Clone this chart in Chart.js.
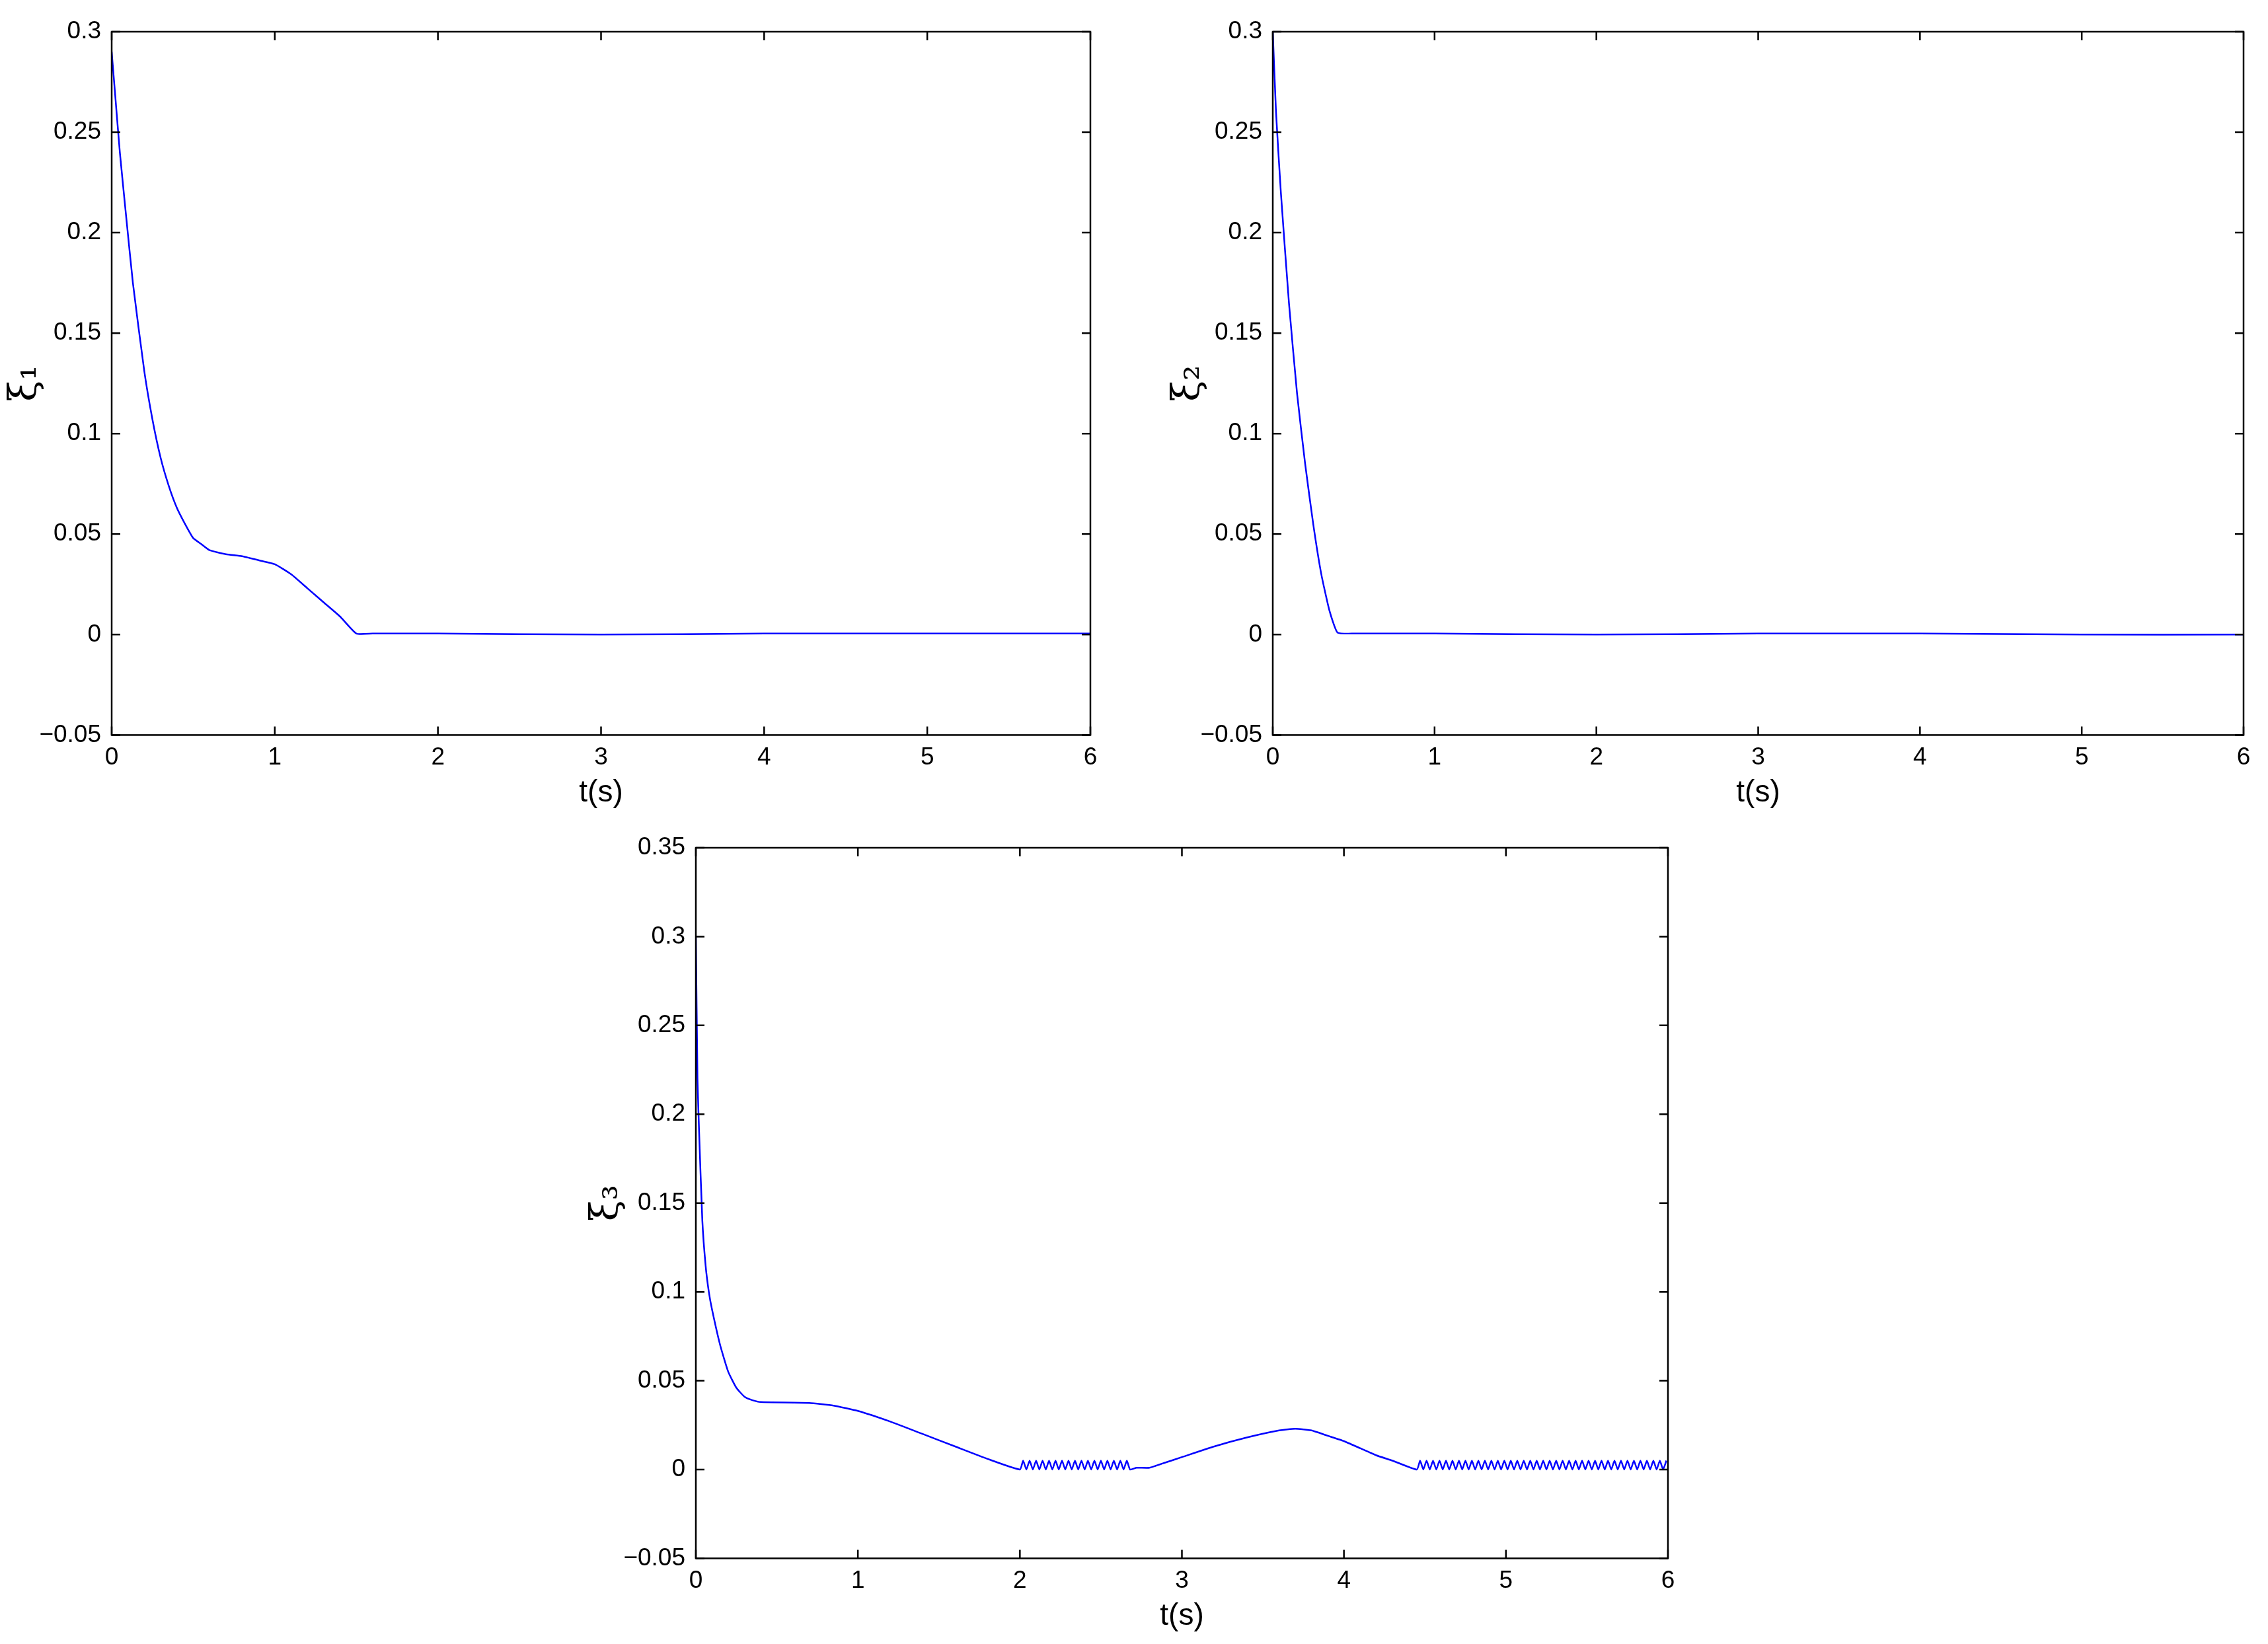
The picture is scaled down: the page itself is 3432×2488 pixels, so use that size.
<!DOCTYPE html>
<html><head><meta charset="utf-8">
<script src="https://cdn.jsdelivr.net/npm/chart.js@4"></script>
<style>body{margin:0;background:#fff;width:3432px;height:2488px;position:relative;overflow:hidden}
canvas{position:absolute}</style></head><body>
<canvas id="c1" style="left:0;top:0;width:1700px;height:1240px"></canvas>
<canvas id="c2" style="left:1760px;top:0;width:1672px;height:1240px"></canvas>
<canvas id="c3" style="left:880px;top:1240px;width:1700px;height:1248px"></canvas>
<script>
// ---- data ----
const t1 = [0,0.02,0.05,0.09,0.13,0.2,0.25,0.3,0.35,0.4,0.45,0.5,0.55,0.6,0.7,0.8,0.9,1.0,1.1,1.2,1.3,1.4,1.5,1.6,2,3,4,5,6];
const v1 = [0.29,0.27,0.24,0.207,0.175,0.131,0.107,0.088,0.074,0.063,0.055,0.048,0.045,0.042,0.040,0.039,0.037,0.035,0.030,0.023,0.016,0.009,0.0005,0.0005,0.0005,0.0,0.0005,0.0005,0.0005];
const t2 = [0,0.02,0.05,0.1,0.15,0.2,0.25,0.3,0.35,0.4,0.5,1,2,3,4,5,6];
const v2 = [0.3,0.26,0.22,0.165,0.12,0.085,0.055,0.03,0.012,0.001,0.0005,0.0005,0.0,0.0005,0.0005,0.0,0.0];
const t3main = [0,0.01,0.02,0.04,0.06,0.08,0.1,0.15,0.2,0.25,0.3,0.35,0.4,0.7,0.85,1.0,1.2,1.4,1.6,1.8,2.0];
const v3main = [0.3,0.22,0.19,0.14,0.115,0.1,0.09,0.07,0.055,0.046,0.041,0.039,0.038,0.0375,0.036,0.033,0.027,0.02,0.013,0.006,0.0];
const t3teethA = [2.02,2.04,2.06,2.08,2.10,2.12,2.14,2.16,2.18,2.20,2.22,2.24,2.26,2.28,2.30,2.32,2.34,2.36,2.38,2.40,2.42,2.44,2.46,2.48,2.50,2.52,2.54,2.56,2.58,2.60,2.62,2.64,2.66,2.68];
const v3teethA = [0.005,0,0.005,0,0.005,0,0.005,0,0.005,0,0.005,0,0.005,0,0.005,0,0.005,0,0.005,0,0.005,0,0.005,0,0.005,0,0.005,0,0.005,0,0.005,0,0.005,0];
const t3mid = [2.72,2.8,2.9,3.0,3.2,3.4,3.6,3.7,3.8,3.9,4.0,4.1,4.2,4.3,4.45];
const v3mid = [0.001,0.001,0.004,0.007,0.013,0.018,0.022,0.023,0.022,0.019,0.016,0.012,0.008,0.005,0.0];
const t3teethB = [4.47,4.49,4.51,4.53,4.55,4.57,4.59,4.61,4.63,4.65,4.67,4.69,4.71,4.73,4.75,4.77,4.79,4.81,4.83,4.85,4.87,4.89,4.91,4.93,4.95,4.97,4.99,5.01,5.03,5.05,5.07,5.09,5.11,5.13,5.15,5.17,5.19,5.21,5.23,5.25,5.27,5.29,5.31,5.33,5.35,5.37,5.39,5.41,5.43,5.45,5.47,5.49,5.51,5.53,5.55,5.57,5.59,5.61,5.63,5.65,5.67,5.69,5.71,5.73,5.75,5.77,5.79,5.81,5.83,5.85,5.87,5.89,5.91,5.93,5.95,5.97,5.99];
const v3teethB = [0.005,0,0.005,0,0.005,0,0.005,0,0.005,0,0.005,0,0.005,0,0.005,0,0.005,0,0.005,0,0.005,0,0.005,0,0.005,0,0.005,0,0.005,0,0.005,0,0.005,0,0.005,0,0.005,0,0.005,0,0.005,0,0.005,0,0.005,0,0.005,0,0.005,0,0.005,0,0.005,0,0.005,0,0.005,0,0.005,0,0.005,0,0.005,0,0.005,0,0.005,0,0.005,0,0.005,0,0.005,0,0.005,0,0.005];
const xTicks = [0,1,2,3,4,5,6];

function pts(ts, vs){ return ts.map((t,i)=>({x:t,y:vs[i]})); }

const frame = {
  id:'frame',
  afterDraw(chart){
    const {ctx, chartArea:a, scales} = chart;
    ctx.save(); ctx.strokeStyle='#000'; ctx.lineWidth=2.5;
    ctx.strokeRect(a.left,a.top,a.right-a.left,a.bottom-a.top);
    const L=13;
    ctx.beginPath();
    scales.x.ticks.forEach(t=>{const p=scales.x.getPixelForValue(t.value);
      ctx.moveTo(p,a.bottom);ctx.lineTo(p,a.bottom-L);ctx.moveTo(p,a.top);ctx.lineTo(p,a.top+L);});
    scales.y.ticks.forEach(t=>{const p=scales.y.getPixelForValue(t.value);
      ctx.moveTo(a.left,p);ctx.lineTo(a.left+L,p);ctx.moveTo(a.right,p);ctx.lineTo(a.right-L,p);});
    ctx.stroke(); ctx.restore();
  }
};

function make(id, data, ymax, ylab, yw, pad){
  new Chart(document.getElementById(id), {
    type:'line',
    data:{datasets:[{data, borderColor:'#0000ff', borderWidth:2.5, pointRadius:0, tension:0.15, fill:false}]},
    options:{
      responsive:false, animation:false, devicePixelRatio:1,
      layout:{padding:pad},
      plugins:{legend:{display:false}, tooltip:{enabled:false}},
      scales:{
        x:{type:'linear', min:0, max:6, afterBuildTicks(s){s.ticks=xTicks.map(v=>({value:v}));},
          grid:{display:false}, border:{display:false},
          ticks:{color:'#000', font:{family:'Liberation Sans', size:37}, padding:4, maxRotation:0},
          title:{display:true, text:'t(s)', color:'#000', font:{family:'Liberation Sans', size:46}, padding:{top:0}}},
        y:{min:-0.05, max:ymax, afterFit(s){s.width=yw;},
          grid:{display:false}, border:{display:false},
          ticks:{stepSize:0.05, color:'#000', font:{family:'Liberation Sans', size:37}, padding:8,
            callback:v=>String(Number(v.toFixed(2))).replace('-','\u2212')},
          title:{display:true, text:ylab, color:'#000', font:{family:'DejaVu Serif', size:58}, padding:{bottom:2}}}
      }
    },
    plugins:[frame]
  });
}
function size(id,w,h){const c=document.getElementById(id);c.width=w;c.height=h;}
size('c1',1700,1240); size('c2',1672,1240); size('c3',1700,1248);
make('c1', pts(t1,v1), 0.3, 'ξ\u2081', 169, {top:48,right:50,left:0,bottom:8});
make('c2', pts(t2,v2), 0.3, 'ξ\u2082', 166, {top:48,right:37,left:0,bottom:8});
make('c3', pts(t3main,v3main).concat(pts(t3teethA,v3teethA),pts(t3mid,v3mid),pts(t3teethB,v3teethB)), 0.35, 'ξ\u2083', 173, {top:43,right:56,left:0,bottom:10});
</script></body></html>
